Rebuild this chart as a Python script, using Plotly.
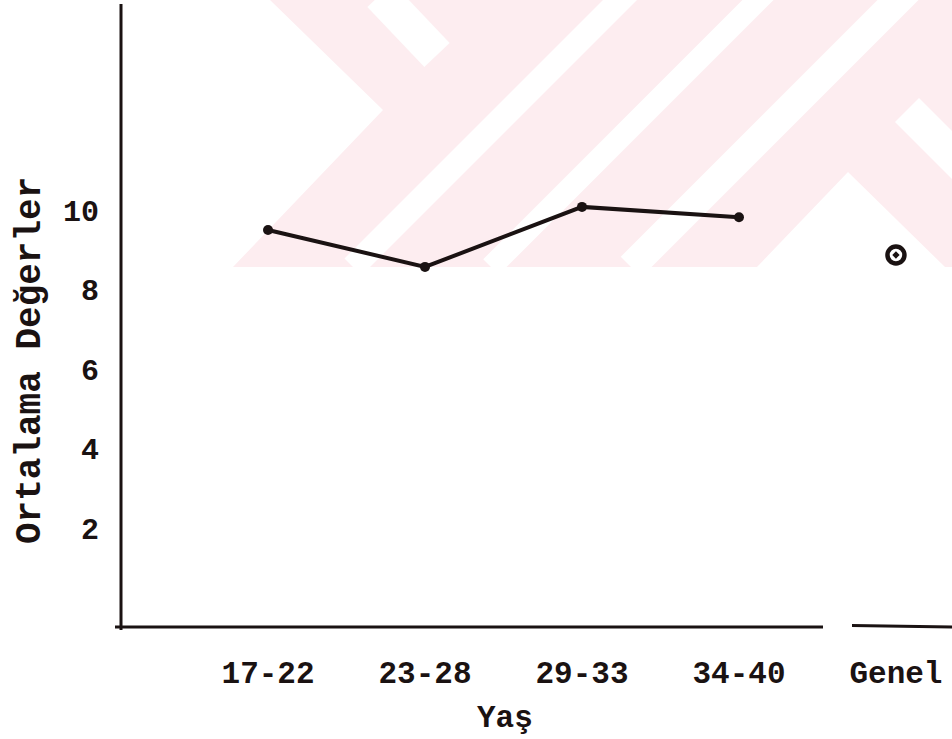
import plotly.graph_objects as go

# ---- data ----
age_groups = ["17-22", "23-28", "29-33", "34-40"]
group_means = [9.50, 8.57, 10.08, 9.82]
overall_label = ["Genel"]
overall_mean = [8.87]
all_categories = age_groups + overall_label
y_tick_values = [2, 4, 6, 8, 10]
y_tick_labels = ["2", "4", "6", "8", "10"]

INK = "#1a1212"
PINK = "#fdedf0"
FONT = "Liberation Mono"

# pixel -> paper helpers for decorations (plot area: x 120..952, y 5..628)
L, T, W, H = 120, 5, 832, 623
def px(X):
    return (X - L) / W
def py(Y):
    return (T + H - Y) / H
def path(points):
    return "M " + " L ".join(f"{px(a):.4f},{py(b):.4f}" for a, b in points) + " Z"

shapes = []
# faint scanned watermark (background decoration)
shapes.append(dict(type="path", xref="paper", yref="paper", layer="below",
                   path=path([(270, -20), (270, 0), (383, 110), (233, 267), (952, 267), (952, -20)]),
                   fillcolor=PINK, line=dict(width=0)))
for (x0, y0, x1, y1, w) in [(353, 267, 640, -20, 24), (491, 267, 778, -20, 22),
                            (631, 267, 918, -20, 29), (380, -5, 437, 55, 35),
                            (907, 110, 970, 173, 34)]:
    shapes.append(dict(type="line", xref="paper", yref="paper", layer="below",
                       x0=px(x0), y0=py(y0), x1=px(x1), y1=py(y1),
                       line=dict(color="white", width=w)))
shapes.append(dict(type="path", xref="paper", yref="paper", layer="below",
                   path=path([(756, 268), (848, 172), (946, 268)]),
                   fillcolor="white", line=dict(width=0)))
# axes lines (x axis broken before "Genel")
shapes.append(dict(type="line", xref="paper", yref="paper", layer="above",
                   x0=px(121), y0=py(4), x1=px(121), y1=py(630),
                   line=dict(color=INK, width=3)))
shapes.append(dict(type="line", xref="paper", yref="paper", layer="above",
                   x0=px(115), y0=py(627), x1=px(823), y1=py(627),
                   line=dict(color=INK, width=3)))
shapes.append(dict(type="line", xref="paper", yref="paper", layer="above",
                   x0=px(852), y0=py(625.5), x1=px(960), y1=py(627),
                   line=dict(color=INK, width=3)))

fig = go.Figure()
fig.add_trace(go.Scatter(x=age_groups, y=group_means, mode="lines+markers",
                         line=dict(color=INK, width=4),
                         marker=dict(color=INK, size=10),
                         showlegend=False, cliponaxis=False))
fig.add_trace(go.Scatter(x=overall_label, y=overall_mean, mode="markers",
                         marker=dict(symbol="circle-open-dot", size=17, color=INK,
                                     line=dict(color=INK, width=4.5)),
                         showlegend=False, cliponaxis=False))

fig.update_layout(
    width=952, height=739,
    margin=dict(l=L, r=0, t=T, b=739 - T - H),
    paper_bgcolor="white", plot_bgcolor="rgba(0,0,0,0)",
    font=dict(family=FONT, color=INK, size=30, weight="bold"),
    shapes=shapes,
    xaxis=dict(type="category", categoryorder="array", categoryarray=all_categories,
               range=[-0.943, 4.357], showgrid=False, zeroline=False, showline=False,
               ticks="", tickfont=dict(family=FONT, size=31, color=INK, weight="bold"),
               ticklabelstandoff=23),
    yaxis=dict(range=[-0.516, 15.16], tickvals=y_tick_values, ticktext=y_tick_labels,
               showgrid=False, zeroline=False, showline=False, ticks="",
               tickfont=dict(family=FONT, size=30, color=INK, weight="bold"),
               ticklabelstandoff=20),
    annotations=[
        dict(text="Ortalama Değerler", textangle=-90, xref="paper", yref="paper",
             x=px(30), y=py(361), xanchor="center", yanchor="middle", showarrow=False,
             font=dict(family=FONT, size=36, color=INK, weight="bold")),
        dict(text="Yaş", xref="paper", yref="paper", x=px(505), y=py(718),
             xanchor="center", yanchor="middle", showarrow=False,
             font=dict(family=FONT, size=31, color=INK, weight="bold")),
    ],
)

fig.write_html("out.html", config={"displayModeBar": False},
               post_script="document.body.style.margin='0';document.body.style.padding='0';")
